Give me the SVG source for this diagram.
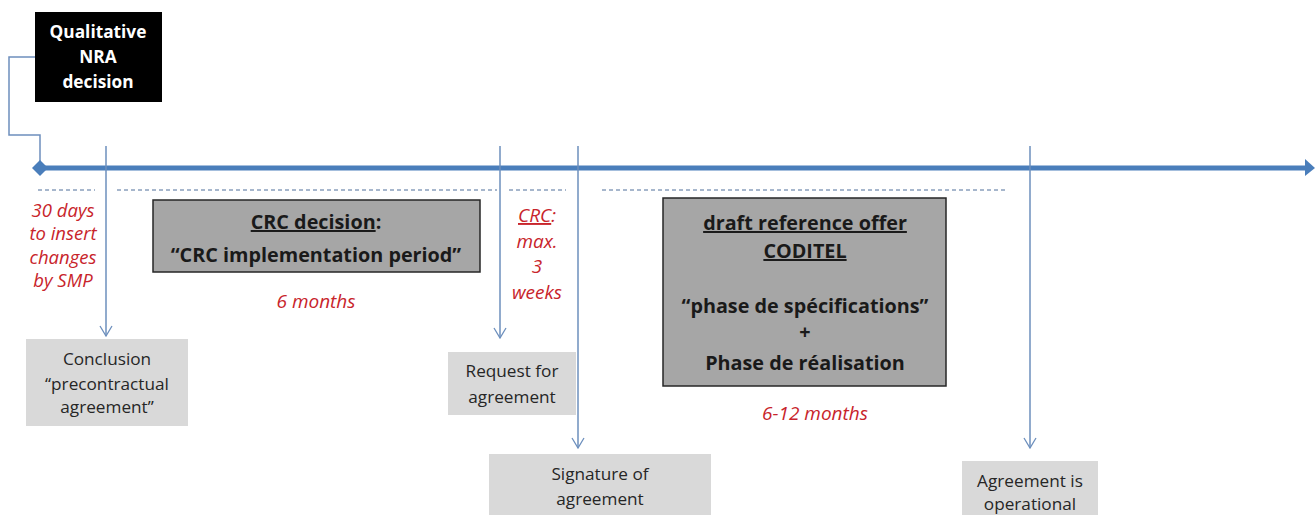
<svg xmlns="http://www.w3.org/2000/svg" width="1315" height="515" viewBox="0 0 1315 515">
<style>
.bg{fill:#ffffff}
.vl{stroke:#6d8fbd;stroke-width:1.5;fill:none}
.dash{stroke:#4f6f9a;stroke-width:1;stroke-dasharray:4 3;fill:none}
.light{fill:#d9d9d9}
.dark{fill:#a6a6a6;stroke:#262626;stroke-width:1.5}
.t{font-family:"Open Sans","Liberation Sans",sans-serif;text-anchor:middle}
.lt{font-size:17.2px;fill:#262626}
.bt{font-size:19.8px;font-weight:bold;fill:#1a1a1a}
.red{font-size:18.5px;font-style:italic;fill:#c8242b}
.red2{font-size:19px;font-style:italic;fill:#c8242b}
.wt{font-size:17.3px;font-weight:bold;fill:#ffffff}
</style>
<defs>
<marker id="chev" viewBox="0 0 12 14" refX="11" refY="7" markerWidth="12" markerHeight="14" markerUnits="userSpaceOnUse" orient="auto">
<polyline points="1,1 11,7 1,13" fill="none" stroke="#6d8fbd" stroke-width="1.3"/>
</marker>
</defs>
<rect class="bg" x="0" y="0" width="1315" height="515"/>
<g id="connectors">
<polyline class="vl" points="35,57 9,57 9,135 40,135 40,162"/>
<line x1="40" y1="168" x2="1306" y2="168" stroke="#4a7ebb" stroke-width="5"/>
<polygon points="1305,159 1315,168 1305,176" fill="#4a7ebb"/>
<polygon points="40,160 48,168 40,176 32,168" fill="#4a7ebb"/>
<line class="vl" x1="106" y1="146" x2="106" y2="336" marker-end="url(#chev)"/>
<line class="vl" x1="500" y1="146" x2="500" y2="338" marker-end="url(#chev)"/>
<line class="vl" x1="578" y1="146" x2="578" y2="448" marker-end="url(#chev)"/>
<line class="vl" x1="1030" y1="146" x2="1030" y2="448" marker-end="url(#chev)"/>
<line class="dash" x1="38" y1="190" x2="95" y2="190"/>
<line class="dash" x1="117" y1="190" x2="497" y2="190"/>
<line class="dash" x1="509" y1="190" x2="566" y2="190"/>
<line class="dash" x1="602" y1="190" x2="1008" y2="190"/>
</g>
<g id="nra">
<rect x="35" y="12" width="127" height="90" fill="#000000"/>
<text class="t wt" x="98" y="38">Qualitative</text>
<text class="t wt" x="98" y="63">NRA</text>
<text class="t wt" x="98" y="88">decision</text>
</g>
<g id="label30">
<text class="t red" x="63" y="217">30 days</text>
<text class="t red" x="63" y="240">to insert</text>
<text class="t red" x="63" y="264">changes</text>
<text class="t red" x="63" y="287">by SMP</text>
</g>
<g id="crc">
<rect class="dark" x="153" y="200" width="327" height="72"/>
<text class="t bt" x="316" y="229"><tspan text-decoration="underline">CRC decision</tspan>:</text>
<text class="t bt" x="316" y="262">“CRC implementation period”</text>
<text class="t red2" x="316" y="308">6 months</text>
</g>
<g id="crc3">
<text class="t red2" x="537" y="222"><tspan text-decoration="underline">CRC</tspan>:</text>
<text class="t red2" x="537" y="248">max.</text>
<text class="t red2" x="537" y="273">3</text>
<text class="t red2" x="537" y="299">weeks</text>
</g>
<g id="draft">
<rect class="dark" x="663" y="198" width="283" height="188"/>
<text class="t bt" x="805" y="230" text-decoration="underline">draft reference offer</text>
<text class="t bt" x="805" y="258" text-decoration="underline">CODITEL</text>
<text class="t bt" x="805" y="313">“phase de spécifications”</text>
<text class="t bt" x="805" y="339">+</text>
<text class="t bt" x="805" y="370">Phase de réalisation</text>
<text class="t red2" x="815" y="420">6-12 months</text>
</g>
<g id="conclusion">
<rect class="light" x="26" y="339" width="162" height="87"/>
<text class="t lt" x="107" y="365">Conclusion</text>
<text class="t lt" x="107" y="390">“precontractual</text>
<text class="t lt" x="107" y="413">agreement”</text>
</g>
<g id="request">
<rect class="light" x="448" y="352" width="128" height="63"/>
<text class="t lt" x="512" y="377">Request for</text>
<text class="t lt" x="512" y="403">agreement</text>
</g>
<g id="signature">
<rect class="light" x="489" y="454" width="222" height="61"/>
<text class="t lt" x="600" y="480">Signature of</text>
<text class="t lt" x="600" y="505">agreement</text>
</g>
<g id="operational">
<rect class="light" x="962" y="461" width="136" height="54"/>
<text class="t lt" x="1030" y="487">Agreement is</text>
<text class="t lt" x="1030" y="510">operational</text>
</g>
</svg>
